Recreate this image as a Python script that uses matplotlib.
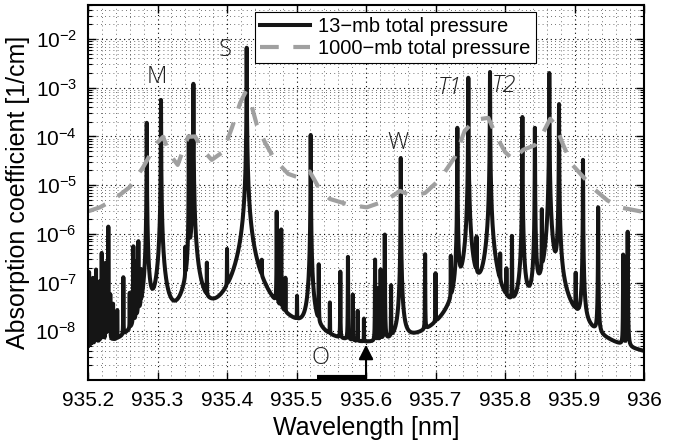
import numpy as np
import matplotlib
matplotlib.use("Agg")
import matplotlib.pyplot as plt
from matplotlib.ticker import MultipleLocator, LogLocator, NullFormatter

plt.rcParams['font.family'] = ['Liberation Sans', 'DejaVu Sans']
plt.rcParams['mathtext.fontset'] = 'custom'
plt.rcParams['mathtext.rm'] = 'Liberation Sans'
plt.rcParams['mathtext.it'] = 'Liberation Sans:italic'

# 13 mb spectrum: line centres [nm] and peak heights [1/cm]
line_center = np.array([
    935.2015, 935.2045, 935.2070, 935.2095, 935.2115, 935.2140, 935.2165,
    935.2197, 935.2225, 935.2255, 935.2292, 935.2320, 935.2360, 935.2420,
    935.2508, 935.2600, 935.2652, 935.2690, 935.2724, 935.2760, 935.2845,
    935.3050, 935.3400, 935.3450, 935.3516, 935.3710, 935.4000, 935.4283,
    935.4500, 935.4715, 935.4780, 935.4840, 935.5007, 935.5204, 935.5320,
    935.5480, 935.5630, 935.5740, 935.5810, 935.5880, 935.5970, 935.6130,
    935.6170, 935.6210, 935.6270, 935.6360, 935.6500, 935.6850, 935.7000,
    935.7220, 935.7314, 935.7472, 935.7590, 935.7784, 935.7930, 935.8020,
    935.8100, 935.8250, 935.8430, 935.8530, 935.8637, 935.8777, 935.9017,
    935.9122, 935.9340, 935.9700, 935.9765])
line_peak = np.array([
    1.6e-7, 6e-8, 1.2e-7, 5e-8, 1.8e-7, 7e-8, 1e-7,
    4e-7, 8e-8, 2.5e-7, 1.4e-6, 5e-8, 3e-8, 2e-8,
    1.2e-7, 5e-8, 5.4e-7, 2.5e-7, 6.8e-7, 1.5e-7, 1.9e-4,
    5.6e-4, 4e-7, 1e-4, 1.2e-3, 2e-7, 4e-7, 6.6e-3,
    1.5e-7, 2.8e-6, 1.2e-6, 1e-7, 3.5e-8, 1.07e-4, 2.2e-7,
    3e-8, 1.6e-7, 3.3e-7, 5e-8, 2e-8, 1.2e-8, 2.9e-7,
    7e-8, 1.8e-7, 9.6e-7, 8e-8, 3.6e-5, 3.7e-7, 1.4e-7,
    3e-7, 1.5e-4, 1.6e-3, 7e-7, 2.1e-3, 2.8e-7, 1.4e-7,
    8.6e-7, 2.5e-4, 1.5e-4, 3e-6, 2e-3, 4.6e-4, 1.3e-7,
    3.3e-5, 3.5e-6, 3.7e-7, 1.1e-6])
line_hwhm = 1.0e-4      # nm
continuum = 1.4e-9

# 1000 mb curve
gray_wl = [935.200, 935.217, 935.236, 935.260, 935.279, 935.299, 935.308,
           935.318, 935.329, 935.344, 935.354, 935.365, 935.378, 935.394,
           935.407, 935.419, 935.426, 935.433, 935.443, 935.455, 935.469,
           935.488, 935.505, 935.519, 935.534, 935.548, 935.577, 935.601,
           935.627, 935.649, 935.666, 935.685, 935.706, 935.728, 935.742,
           935.757, 935.776, 935.788, 935.800, 935.812, 935.826, 935.843,
           935.855, 935.865, 935.873, 935.882, 935.896, 935.912, 935.930,
           935.947, 935.965, 936.000]
gray_val = [2.9e-6, 3.5e-6, 4.9e-6, 9.1e-6, 2.3e-5, 7.3e-5, 9.8e-5,
            4.2e-5, 2.6e-5, 9.8e-5, 1.0e-4, 5.3e-5, 3.3e-5, 4.8e-5,
            1.5e-4, 4.9e-4, 7.8e-4, 5.6e-4, 1.7e-4, 7.3e-5, 3.3e-5,
            1.7e-5, 1.4e-5, 1.9e-5, 7.9e-6, 5.2e-6, 3.9e-6, 3.5e-6,
            4.7e-6, 7.6e-6, 6.0e-6, 6.9e-6, 1.3e-5, 3.8e-5, 1.3e-4,
            2.2e-4, 2.4e-4, 9.8e-5, 4.8e-5, 3.3e-5, 5.3e-5, 6.6e-5,
            1.2e-4, 2.3e-4, 1.7e-4, 7.6e-5, 2.7e-5, 1.5e-5, 7.9e-6,
            4.9e-6, 3.5e-6, 2.8e-6]

xticks = [935.2, 935.3, 935.4, 935.5, 935.6, 935.7, 935.8, 935.9, 936.0]
xtick_labels = ['935.2', '935.3', '935.4', '935.5', '935.6', '935.7',
                '935.8', '935.9', '936']
yticks = [1e-8, 1e-7, 1e-6, 1e-5, 1e-4, 1e-3, 1e-2]

wl = np.union1d(np.linspace(935.2, 936.0, 40001), line_center)
k13 = continuum + (line_peak[None, :] /
                   (1 + ((wl[:, None] - line_center[None, :]) / line_hwhm) ** 2)).sum(axis=1)

fig = plt.figure(figsize=(6.91, 4.46), dpi=100)
ax = fig.add_axes([0.1274, 0.148, 0.8046, 0.841])

ax.semilogy(wl, k13, color='#151515', lw=2.9, label='13\u2212mb total pressure')
ax.semilogy(gray_wl, gray_val, color='#a0a0a0', lw=3, dashes=(4.5, 3.5),
            label='1000\u2212mb total pressure')

ax.set_xlim(935.2, 936.0)
ax.set_ylim(1.0e-9, 5e-2)
ax.set_xticks(xticks)
ax.set_xticklabels(xtick_labels)
ax.xaxis.set_minor_locator(MultipleLocator(0.02))
ax.set_yticks(yticks)
ax.yaxis.set_minor_locator(LogLocator(base=10, subs=np.arange(2, 10)))
ax.yaxis.set_minor_formatter(NullFormatter())

ax.tick_params(which='both', direction='in', top=True, right=True, labelsize=15, pad=8)
ax.tick_params(which='major', length=6, width=1)
ax.tick_params(axis='y', which='minor', length=3, width=0.8)
ax.tick_params(axis='x', which='minor', length=0)
ax.grid(True, which='major', linestyle=(0, (1, 3)), color='k', lw=0.8)
ax.grid(True, which='minor', linestyle=(0, (1, 4)), color='#444444', lw=0.6)
for s in ax.spines.values():
    s.set_linewidth(1.5)

ax.set_xlabel('Wavelength [nm]', fontsize=18)
ax.set_ylabel('Absorption coefficient [1/cm]', fontsize=18)

lab = dict(fontsize=17, color='#222222', ha='center', va='center',
           family=['Open Sans', 'DejaVu Sans'], fontweight='light')
ax.text(935.2993, 1.66e-3, 'M', **lab)
ax.text(935.397, 5.9e-3, 'S', **lab)
ax.text(935.646, 7.3e-5, 'W', **lab)
ax.text(935.721, 1.0e-3, 'T1', fontstyle='italic', **lab)
ax.text(935.7986, 1.1e-3, 'T2', fontstyle='italic', **lab)
ax.text(935.5338, 2.8e-9, 'O', **lab)

ax.plot([935.53, 935.6], [1.17e-9, 1.17e-9], color='k', lw=3, solid_capstyle='butt')
ax.annotate('', xy=(935.6, 5.3e-9), xytext=(935.6, 1.1e-9),
            arrowprops=dict(arrowstyle='-|>', color='k', lw=1.5,
                            mutation_scale=22, shrinkA=0, shrinkB=0))

leg = ax.legend(loc='upper left', bbox_to_anchor=(0.30, 0.981), fontsize=14.5,
                fancybox=False, edgecolor='k', framealpha=1, borderaxespad=0,
                handlelength=2.5, handletextpad=0.4, labelspacing=0.15,
                borderpad=0.25)
leg.get_frame().set_linewidth(0.8)

fig.savefig('out.png', dpi=100)
